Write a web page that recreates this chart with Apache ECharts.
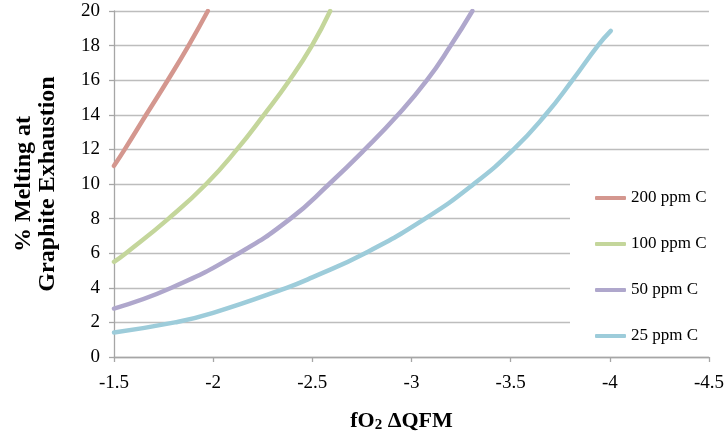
<!DOCTYPE html>
<html>
<head>
<meta charset="utf-8">
<script src="https://cdn.jsdelivr.net/npm/echarts@6/dist/echarts.min.js"></script>
<style>
  html, body { margin: 0; padding: 0; background: #fff; }
  #chart { width: 727px; height: 438px; }
</style>
</head>
<body>
<div id="chart"></div>
<script>
// Oxygen fugacity (ΔQFM) vs. % melting at which graphite is exhausted,
// one curve per bulk carbon content.
const seriesNames = ['200 ppm C', '100 ppm C', '50 ppm C', '25 ppm C'];

// [fO2 ΔQFM, % melting]
const carbon200 = [[-1.5, 11.05], [-1.554, 12], [-1.662, 14], [-1.771, 16], [-1.876, 18], [-1.973, 20]];
const carbon100 = [[-1.5, 5.5], [-1.56, 6], [-1.775, 8], [-1.965, 10], [-2.12, 12], [-2.256, 14],
                   [-2.385, 16], [-2.498, 18], [-2.59, 20]];
const carbon50  = [[-1.5, 2.8], [-1.79, 4], [-2.13, 6], [-2.39, 8], [-2.585, 10],
                   [-2.765, 12], [-2.932, 14], [-3.078, 16], [-3.198, 18], [-3.307, 20]];
const carbon25  = [[-1.5, 1.42], [-1.807, 2], [-2.0, 2.55], [-2.371, 4], [-2.5, 4.6], [-2.766, 6],
                   [-3.069, 8], [-3.314, 10], [-3.515, 12], [-3.676, 14], [-3.812, 16],
                   [-3.94, 18], [-4.005, 18.85]];

const xTicks = { min: -4.5, max: -1.5, step: 0.5 };
const yTicks = { min: 0, max: 20, step: 2 };

const colors = ['#D4978F', '#C4D69B', '#AFA7CC', '#9DCCDA'];
const serif = '"Liberation Serif", "Times New Roman", serif';

const chart = echarts.init(document.getElementById('chart'), null, { renderer: 'canvas' });

const curves = [carbon200, carbon100, carbon50, carbon25];

chart.setOption({
  animation: false,
  backgroundColor: '#fff',
  color: colors,
  grid: { left: 114, right: 18, top: 11, bottom: 78, containLabel: false },
  legend: {
    orient: 'vertical',
    left: 570,
    top: 178,
    padding: [11.5, 12, 8, 25],
    backgroundColor: '#fff',
    itemWidth: 31,
    itemHeight: 4,
    itemGap: 29,
    icon: 'roundRect',
    textStyle: { fontFamily: serif, fontSize: 17, color: '#000', lineHeight: 17 },
    data: seriesNames
  },
  xAxis: {
    type: 'value',
    inverse: true,
    min: xTicks.min,
    max: xTicks.max,
    interval: xTicks.step,
    name: 'fO{sub|2} ΔQFM',
    nameLocation: 'middle',
    nameGap: 52,
    nameTextStyle: {
      fontFamily: serif, fontSize: 22, fontWeight: 'bold', color: '#000',
      padding: [0, 20, 0, 0],
      rich: { sub: { fontFamily: serif, fontSize: 15, fontWeight: 'bold', color: '#000', padding: [9, 0, 0, 0] } }
    },
    axisLine: { show: true, lineStyle: { color: '#A6A6A6', width: 1.3 } },
    axisTick: { show: true, inside: false, length: 5, lineStyle: { color: '#A6A6A6', width: 1.3 } },
    axisLabel: { fontFamily: serif, fontSize: 19, color: '#000', margin: 17 },
    splitLine: { show: false }
  },
  yAxis: {
    type: 'value',
    min: yTicks.min,
    max: yTicks.max,
    interval: yTicks.step,
    name: '% Melting at\nGraphite Exhaustion',
    nameLocation: 'middle',
    nameGap: 54,
    nameTextStyle: { fontFamily: serif, fontSize: 24, fontWeight: 'bold', color: '#000', lineHeight: 24, align: 'center' },
    axisLine: { show: true, lineStyle: { color: '#A6A6A6', width: 1.3 } },
    axisTick: { show: true, inside: false, length: 5, lineStyle: { color: '#A6A6A6', width: 1.3 } },
    axisLabel: { fontFamily: serif, fontSize: 19, color: '#000', margin: 14, padding: [6, 0, 0, 0] },
    splitLine: { show: true, lineStyle: { color: '#BDBDBD', width: 1.3 } }
  },
  series: curves.map((d, i) => ({
    name: seriesNames[i],
    type: 'line',
    data: d,
    smooth: 0.5,
    symbol: 'none',
    lineStyle: { width: 4.5, color: colors[i], cap: 'round' },
    itemStyle: { color: colors[i] }
  }))
});
</script>
</body>
</html>
